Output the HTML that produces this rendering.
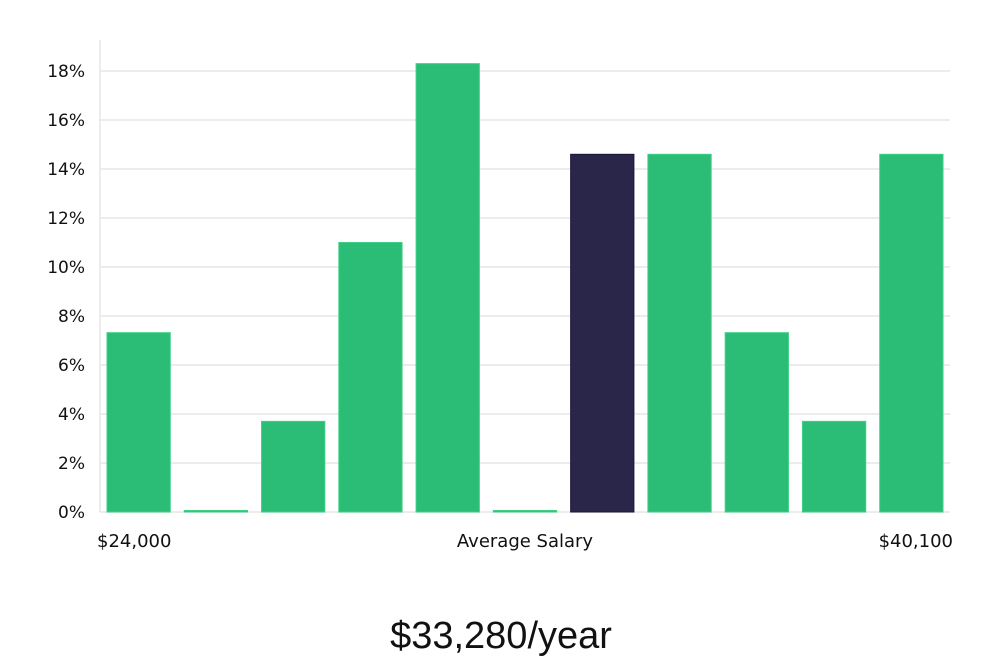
<!DOCTYPE html>
<html><head><meta charset="utf-8"><style>
body{margin:0;background:#fff;width:1000px;height:660px;overflow:hidden}
svg text{font-family:"DejaVu Sans","Liberation Sans",sans-serif;fill:#111}
</style></head><body>
<svg id="chart" width="1000" height="660" viewBox="0 0 1000 660"></svg>
<script>
const categories=["b1","b2","b3","b4","b5","b6","b7","b8","b9","b10","b11"];
const values=[7.32,0,3.7,11.0,18.3,0,14.6,14.6,7.32,3.7,14.6];
const highlight=[false,false,false,false,false,false,true,false,false,false,false];
const yTicks=[0,2,4,6,8,10,12,14,16,18];
const xLabels=["$24,000","Average Salary","$40,100"];
const NS="http://www.w3.org/2000/svg";
const svg=document.getElementById('chart');
const X0=100,X1=950,Y0=512,PX=24.5;
const y=v=>Y0-v*PX;
const band=(X1-X0)/categories.length;
function mk(t,a){const e=document.createElementNS(NS,t);for(const k in a)e.setAttribute(k,a[k]);svg.appendChild(e);return e;}
yTicks.forEach(t=>{
  if(t>0){const g=mk('line',{x1:X0,x2:X1,y1:y(t),y2:y(t),stroke:'#e6e6e6','stroke-width':1.5});
  
  }
  const l=mk('text',{x:85,y:y(t)+6,'text-anchor':'end','font-size':17});
  l.textContent=t+'%';
  
  
});
const ax=mk('line',{x1:X0,x2:X0,y1:40,y2:Y0,stroke:'#e6e6e6','stroke-width':1.5});


const bx=mk('line',{x1:X0,x2:X1,y1:Y0,y2:Y0,stroke:'#e6e6e6','stroke-width':1.5});


values.forEach((v,i)=>{
  const bxp=X0+i*band+7,w=band-14;
  const h=Math.max(v*PX,1.5);
  const r=mk('rect',{x:bxp,y:Y0-h,width:w,height:h,fill:highlight[i]?'#2a2649':'#2bbd76',stroke:highlight[i]?'#1a1838':'#3fcf85','stroke-width':1});
  
  
});
const pos=[[97,'start'],[525,'middle'],[953,'end']];
xLabels.forEach((s,i)=>{
  const t=mk('text',{x:pos[i][0],y:547,'text-anchor':pos[i][1],'font-size':18});
  t.textContent=s;
  
  
});
const tt=mk('text',{x:501,y:648,'text-anchor':'middle','font-size':38,'font-weight':300});
tt.setAttribute('style','font-family:"Liberation Sans",sans-serif');
tt.textContent='$33,280/year';


</script>
</body></html>
